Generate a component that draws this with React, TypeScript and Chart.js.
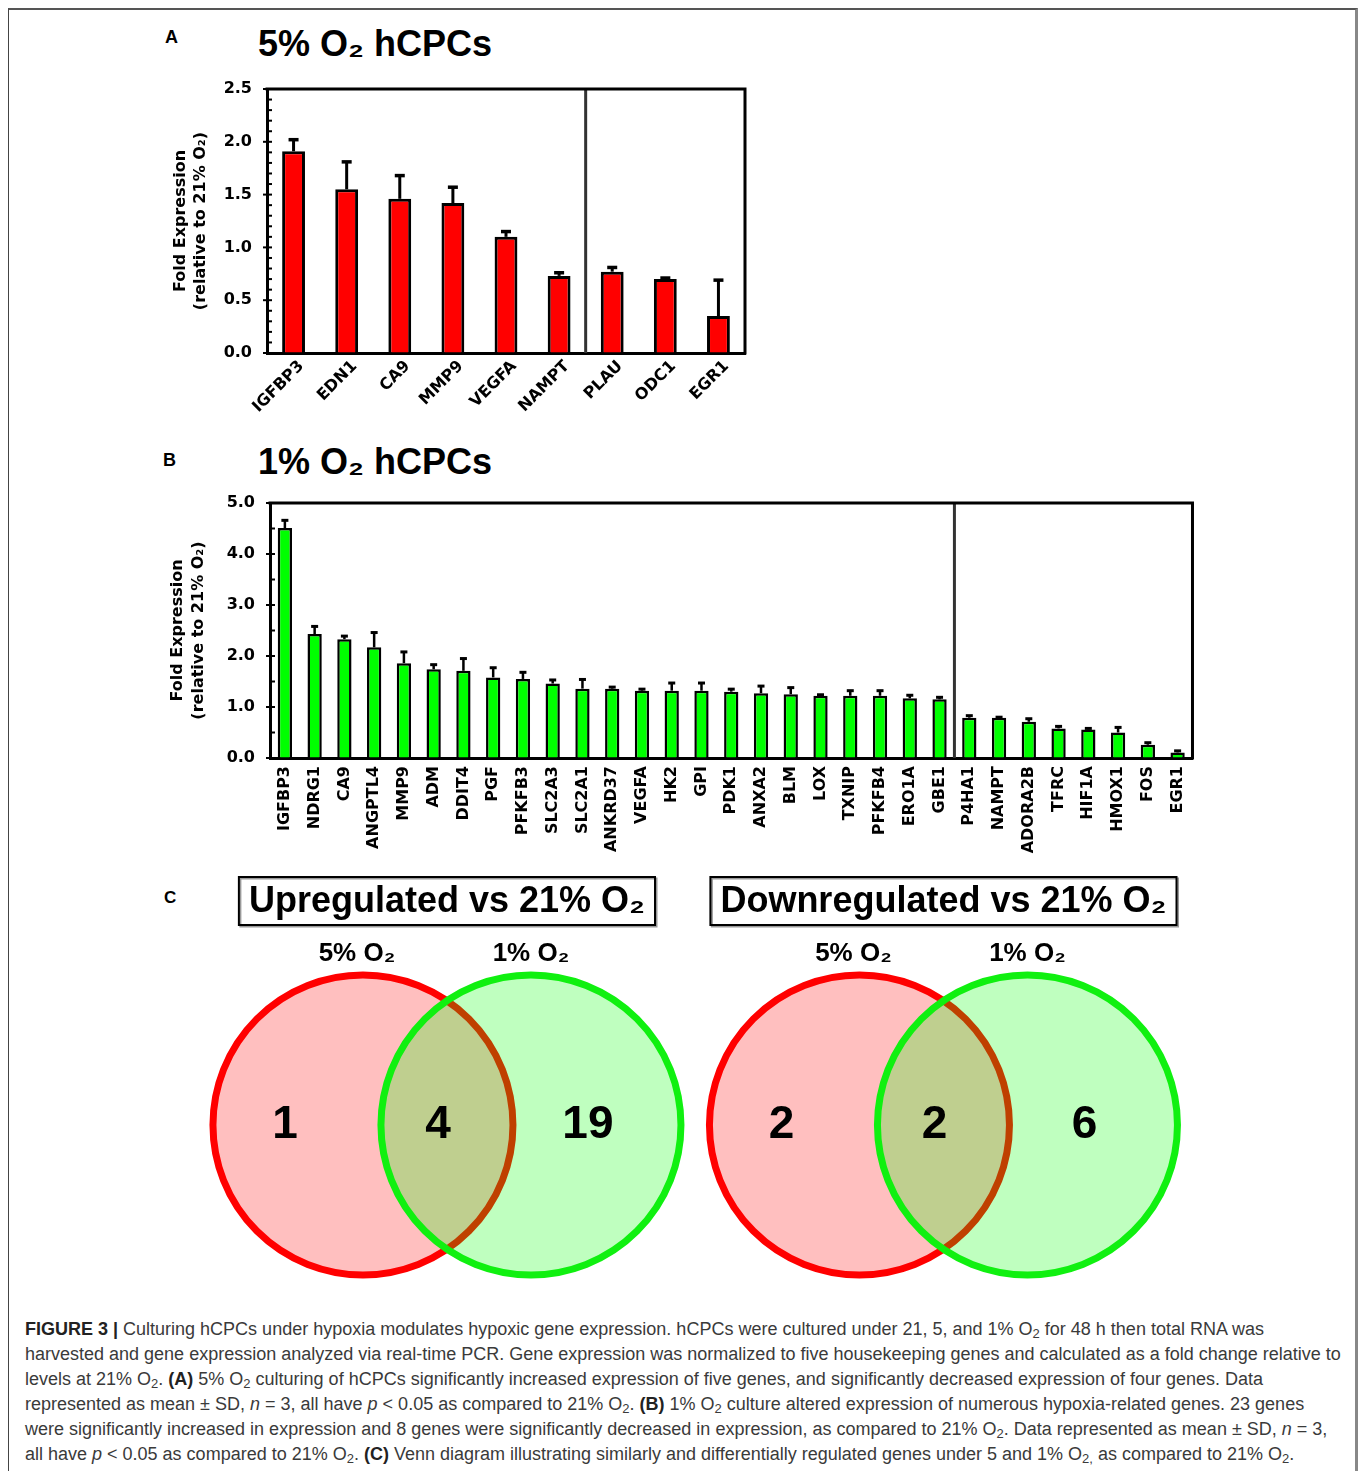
import React, { useEffect, useRef } from 'react';
import { Chart, registerables } from 'chart.js';

Chart.register(...registerables);
Chart.defaults.font.family = '"DejaVu Sans", sans-serif';
Chart.defaults.color = '#000';

// ---------- Panel A: 5% O2 ----------
const genesA = ['IGFBP3', 'EDN1', 'CA9', 'MMP9', 'VEGFA', 'NAMPT', 'PLAU', 'ODC1', 'EGR1'];
const meanA = [1.91, 1.55, 1.46, 1.42, 1.10, 0.73, 0.77, 0.70, 0.35];
const sdA = [0.11, 0.26, 0.22, 0.15, 0.05, 0.03, 0.04, 0.01, 0.34];
const splitA = 6; // first gene right of the divider
const yTickLabelsA = ['0.0', '0.5', '1.0', '1.5', '2.0', '2.5'];
const yMajorA = 0.5;
const yMinorA = 0.1;

// ---------- Panel B: 1% O2 ----------
const genesB = [
  'IGFBP3', 'NDRG1', 'CA9', 'ANGPTL4', 'MMP9', 'ADM', 'DDIT4', 'PGF', 'PFKFB3', 'SLC2A3',
  'SLC2A1', 'ANKRD37', 'VEGFA', 'HK2', 'GPI', 'PDK1', 'ANXA2', 'BLM', 'LOX', 'TXNIP',
  'PFKFB4', 'ERO1A', 'GBE1', 'P4HA1', 'NAMPT', 'ADORA2B', 'TFRC', 'HIF1A', 'HMOX1', 'FOS', 'EGR1',
];
const meanB = [
  4.51, 2.43, 2.33, 2.17, 1.86, 1.74, 1.71, 1.58, 1.55, 1.46,
  1.36, 1.36, 1.32, 1.32, 1.32, 1.30, 1.27, 1.25, 1.22, 1.22,
  1.22, 1.17, 1.15, 0.79, 0.79, 0.71, 0.58, 0.56, 0.50, 0.26, 0.11,
];
const sdB = [
  0.15, 0.15, 0.06, 0.29, 0.22, 0.09, 0.24, 0.19, 0.13, 0.07,
  0.18, 0.03, 0.03, 0.15, 0.15, 0.05, 0.14, 0.13, 0.02, 0.10,
  0.10, 0.06, 0.04, 0.04, 0.01, 0.06, 0.04, 0.02, 0.10, 0.04, 0.03,
];
const splitB = 23;
const yTickLabelsB = ['0.0', '1.0', '2.0', '3.0', '4.0', '5.0'];
const yMajorB = 1.0;
const yMinorB = 0.5;

// ---------- Panel C: Venn ----------
const vennTitles = ['Upregulated vs 21% O\u2082', 'Downregulated vs 21% O\u2082'];
const vennSets = ['5% O\u2082', '1% O\u2082'];
const only5 = [1, 2];
const both = [4, 2];
const only1 = [19, 6];
// schematic layout in units of one circle radius
const vennGroupCentre = [1.913, 5.223];
const vennHalfSep = 0.56;
const vennCircleY = 1.167;
const vennTitleY = 2.66;
const vennSetLabelY = 2.305;
const vennCountY = 1.165;

const axisTitle = ['Fold Expression', '(relative to 21% O\u2082)'];

const isMultiple = (v: number, step: number) => Math.abs(v / step - Math.round(v / step)) < 1e-6;

const figureMarks = {
  id: 'figureMarks',
  afterDatasetsDraw(chart: any, _args: any, opts: any) {
    const { ctx, chartArea: ca, scales } = chart;
    const xs = scales.x;
    const ys = scales.y;
    ctx.save();
    // error bars (upper SD)
    chart.data.datasets.forEach((ds: any, di: number) => {
      if (!ds.errors) return;
      const meta = chart.getDatasetMeta(di);
      meta.data.forEach((el: any, i: number) => {
        const top = ys.getPixelForValue(ds.data[i] + ds.errors[i]);
        ctx.strokeStyle = '#000';
        ctx.lineWidth = opts.errWidth;
        ctx.beginPath();
        ctx.moveTo(el.x, el.y);
        ctx.lineTo(el.x, top);
        ctx.stroke();
        ctx.lineWidth = opts.errWidth + 0.5;
        ctx.beginPath();
        ctx.moveTo(el.x - opts.cap / 2, top);
        ctx.lineTo(el.x + opts.cap / 2, top);
        ctx.stroke();
      });
    });
    // divider between up- and down-regulated
    const xd = (xs.getPixelForValue(opts.split - 1) + xs.getPixelForValue(opts.split)) / 2;
    ctx.strokeStyle = '#333';
    ctx.lineWidth = 3;
    ctx.beginPath();
    ctx.moveTo(xd, ca.top);
    ctx.lineTo(xd, ca.bottom);
    ctx.stroke();
    // top and right frame
    ctx.strokeStyle = '#000';
    ctx.lineWidth = 3;
    ctx.beginPath();
    ctx.moveTo(ca.left - 1.5, ca.top);
    ctx.lineTo(ca.right, ca.top);
    ctx.lineTo(ca.right, ca.bottom + 1.5);
    ctx.stroke();
    // tick marks: all inward, majors also outward
    ctx.lineWidth = 2;
    ys.ticks.forEach((t: any) => {
      const py = ys.getPixelForValue(t.value);
      const major = isMultiple(t.value, opts.major);
      ctx.beginPath();
      ctx.moveTo(ca.left - (major ? 4 : 0), py);
      ctx.lineTo(ca.left + 5, py);
      ctx.stroke();
    });
    ctx.restore();
  },
};

function barConfig(p: any) {
  return {
    type: 'bar',
    data: {
      labels: p.labels,
      datasets: [
        {
          data: p.means,
          errors: p.sds,
          backgroundColor: p.color,
          borderColor: '#000',
          borderWidth: p.barBorder,
          barPercentage: p.barPct,
          categoryPercentage: 1,
        },
      ],
    },
    options: {
      responsive: false,
      animation: false,
      devicePixelRatio: 1,
      events: [],
      layout: { padding: { top: p.padTop, right: p.padRight, left: 0, bottom: 0 } },
      plugins: {
        legend: { display: false },
        tooltip: { enabled: false },
        figureMarks: { split: p.split, cap: p.cap, errWidth: p.errWidth, major: p.yMajor },
      },
      scales: {
        x: {
          type: 'category',
          offset: true,
          grid: { display: false, drawTicks: false },
          border: { display: true, color: '#000', width: 3 },
          ticks: {
            autoSkip: false,
            minRotation: p.rotation,
            maxRotation: p.rotation,
            padding: p.xPad,
            labelOffset: p.labelOffset,
            color: '#000',
            font: { family: '"DejaVu Sans", sans-serif', size: 16, weight: 'bold' },
          },
          afterFit: (s: any) => {
            s.height = p.xHeight;
          },
        },
        y: {
          min: 0,
          max: p.yMax,
          grid: {
            display: true,
            drawOnChartArea: false,
            drawTicks: true,
            tickLength: 15,
            tickWidth: 1,
            tickColor: 'rgba(0,0,0,0)',
          },
          border: { display: true, color: '#000', width: 3 },
          ticks: {
            stepSize: p.yMinor,
            autoSkip: false,
            padding: 0,
            color: '#000',
            font: { family: '"DejaVu Sans", sans-serif', size: 16, weight: 'bold' },
            callback: (v: number) =>
              isMultiple(v, p.yMajor) ? p.tickLabels[Math.round(v / p.yMajor)] : '',
          },
          title: {
            display: true,
            text: axisTitle,
            color: '#000',
            padding: { top: p.titlePad, bottom: 0 },
            font: { family: '"DejaVu Sans", sans-serif', size: 16, weight: 'bold', lineHeight: 1.3 },
          },
          afterFit: (s: any) => {
            s.width = p.yWidth;
          },
        },
      },
    },
    plugins: [figureMarks],
  };
}

const vennText = {
  id: 'vennText',
  afterDatasetsDraw(chart: any) {
    const { ctx, scales } = chart;
    const xs = scales.x;
    const ys = scales.y;
    ctx.save();
    ctx.fillStyle = '#000';
    ctx.textAlign = 'center';
    ctx.textBaseline = 'middle';
    vennTitles.forEach((title, g) => {
      const gc = vennGroupCentre[g];
      const cx = xs.getPixelForValue(gc);
      // title box
      ctx.font = 'bold 36px "Liberation Sans", Arial, sans-serif';
      const w = ctx.measureText(title).width + 20;
      const ty = ys.getPixelForValue(vennTitleY);
      ctx.strokeStyle = '#999';
      ctx.lineWidth = 2;
      ctx.strokeRect(cx - w / 2 + 1.5, ty - 24 + 1.5, w, 48);
      ctx.strokeStyle = '#000';
      ctx.strokeRect(cx - w / 2, ty - 24, w, 48);
      ctx.fillText(title, cx, ty + 1);
      // set labels
      ctx.font = 'bold 26px "Liberation Sans", Arial, sans-serif';
      const sy = ys.getPixelForValue(vennSetLabelY);
      ctx.fillText(vennSets[0], xs.getPixelForValue(gc - vennHalfSep - 0.04), sy);
      ctx.fillText(vennSets[1], xs.getPixelForValue(gc + vennHalfSep), sy);
      // counts
      ctx.font = 'bold 46px "Liberation Sans", Arial, sans-serif';
      const cy = ys.getPixelForValue(vennCountY);
      ctx.fillText(String(only5[g]), xs.getPixelForValue(gc - vennHalfSep - 0.52), cy);
      ctx.fillText(String(both[g]), xs.getPixelForValue(gc - 0.06), cy);
      ctx.fillText(String(only1[g]), xs.getPixelForValue(gc + vennHalfSep + 0.38), cy);
    });
    ctx.restore();
  },
};

function vennConfig() {
  return {
    type: 'scatter',
    data: {
      datasets: [
        {
          label: vennSets[0],
          data: vennGroupCentre.map((c) => ({ x: c - vennHalfSep, y: vennCircleY })),
          pointRadius: 150,
          pointBorderWidth: 7,
          pointBackgroundColor: 'rgba(255,0,0,0.25)',
          pointBorderColor: '#ff0000',
          order: 2,
          clip: false,
        },
        {
          label: vennSets[1],
          data: vennGroupCentre.map((c) => ({ x: c + vennHalfSep, y: vennCircleY })),
          pointRadius: 150,
          pointBorderWidth: 7,
          pointBackgroundColor: 'rgba(0,255,0,0.25)',
          pointBorderColor: '#10f010',
          order: 1,
          clip: false,
        },
      ],
    },
    options: {
      responsive: false,
      animation: false,
      devicePixelRatio: 1,
      events: [],
      layout: { padding: 0, autoPadding: false },
      plugins: { legend: { display: false }, tooltip: { enabled: false } },
      scales: {
        x: { type: 'linear', display: false, min: 0, max: 1040 / 150 },
        y: { type: 'linear', display: false, min: 0, max: 440 / 150 },
      },
    },
    plugins: [vennText],
  };
}

function ChartCanvas({ make, left, top, width, height }: any) {
  const ref = useRef<HTMLCanvasElement | null>(null);
  useEffect(() => {
    const chart = new Chart(ref.current as HTMLCanvasElement, make());
    return () => chart.destroy();
  }, []);
  return (
    <canvas
      ref={ref}
      width={width}
      height={height}
      style={{ position: 'absolute', left, top, width, height }}
    />
  );
}

const sans = '"Liberation Sans", Arial, Helvetica, sans-serif';
const sub = (t: string) => (
  <sub style={{ fontSize: 13, lineHeight: 0, verticalAlign: -3 }}>{t}</sub>
);

export default function App() {
  const makeA = () =>
    barConfig({
      labels: genesA,
      means: meanA,
      sds: sdA,
      split: splitA,
      color: '#ff0000',
      barBorder: 3,
      barPct: 0.43,
      yMax: 2.5,
      yMajor: yMajorA,
      yMinor: yMinorA,
      tickLabels: yTickLabelsA,
      rotation: 45,
      xPad: 4,
      labelOffset: 8,
      padTop: 14,
      padRight: 15,
      yWidth: 107,
      xHeight: 67,
      titlePad: 10,
      cap: 10,
      errWidth: 3,
    });
  const makeB = () =>
    barConfig({
      labels: genesB,
      means: meanB,
      sds: sdB,
      split: splitB,
      color: '#00ff00',
      barBorder: 2.5,
      barPct: 0.48,
      yMax: 5,
      yMajor: yMajorB,
      yMinor: yMinorB,
      tickLabels: yTickLabelsB,
      rotation: 90,
      xPad: 8,
      labelOffset: 0,
      padTop: 13,
      padRight: 12,
      yWidth: 115,
      xHeight: 112,
      titlePad: 12.6,
      cap: 7,
      errWidth: 2.5,
    });

  const letter = (t: string, left: number, top: number, size = 18) => (
    <div
      style={{
        position: 'absolute', left, top, fontFamily: sans, fontWeight: 'bold',
        fontSize: size, lineHeight: `${size}px`, color: '#000',
      }}
    >
      {t}
    </div>
  );
  const title = (t: string, top: number) => (
    <div
      style={{
        position: 'absolute', left: 258, top, fontFamily: sans, fontWeight: 'bold',
        fontSize: 36, lineHeight: '36px', color: '#000', whiteSpace: 'nowrap',
      }}
    >
      {t}
    </div>
  );

  const captionLines = [
    <>
      <b style={{ color: '#222' }}>FIGURE 3 |</b> Culturing hCPCs under hypoxia modulates hypoxic gene expression. hCPCs were cultured under 21, 5, and 1% O{sub('2')} for 48 h then total RNA was
    </>,
    <>
      harvested and gene expression analyzed via real-time PCR. Gene expression was normalized to five housekeeping genes and calculated as a fold change relative to
    </>,
    <>
      levels at 21% O{sub('2')}. <b style={{ color: '#222' }}>(A)</b> 5% O{sub('2')} culturing of hCPCs significantly increased expression of five genes, and significantly decreased expression of four genes. Data
    </>,
    <>
      represented as mean ± SD, <i>n</i> = 3, all have <i>p</i> &lt; 0.05 as compared to 21% O{sub('2')}. <b style={{ color: '#222' }}>(B)</b> 1% O{sub('2')} culture altered expression of numerous hypoxia-related genes. 23 genes
    </>,
    <>
      were significantly increased in expression and 8 genes were significantly decreased in expression, as compared to 21% O{sub('2')}. Data represented as mean ± SD, <i>n</i> = 3,
    </>,
    <>
      all have <i>p</i> &lt; 0.05 as compared to 21% O{sub('2')}. <b style={{ color: '#222' }}>(C)</b> Venn diagram illustrating similarly and differentially regulated genes under 5 and 1% O{sub('2,')} as compared to 21% O{sub('2')}.
    </>,
  ];

  return (
    <div
      style={{
        position: 'absolute', left: 0, top: 0, width: 1358, height: 1471,
        overflow: 'hidden', background: '#fff',
      }}
    >
      <div
        style={{
          position: 'absolute', left: 8, top: 8, width: 1350, height: 1520, boxSizing: 'border-box',
          borderTop: '2px solid #555', borderLeft: '1px solid #444', borderRight: '3px solid #888',
        }}
      />
      {letter('A', 165, 28)}
      {letter('B', 163, 451)}
      {letter('C', 164, 889, 17)}
      {title('5% O\u2082 hCPCs', 26)}
      {title('1% O\u2082 hCPCs', 444)}
      <ChartCanvas make={makeA} left={160} top={75} width={600} height={345} />
      <ChartCanvas make={makeB} left={155} top={490} width={1050} height={380} />
      <ChartCanvas make={vennConfig} left={160} top={860} width={1040} height={440} />
      <div
        style={{
          position: 'absolute', left: 25, top: 1317, fontFamily: sans, fontSize: 18,
          color: '#3a3a3a',
        }}
      >
        {captionLines.map((l, i) => (
          <div key={i} style={{ height: 25, lineHeight: '25px', whiteSpace: 'nowrap' }}>
            {l}
          </div>
        ))}
      </div>
    </div>
  );
}
